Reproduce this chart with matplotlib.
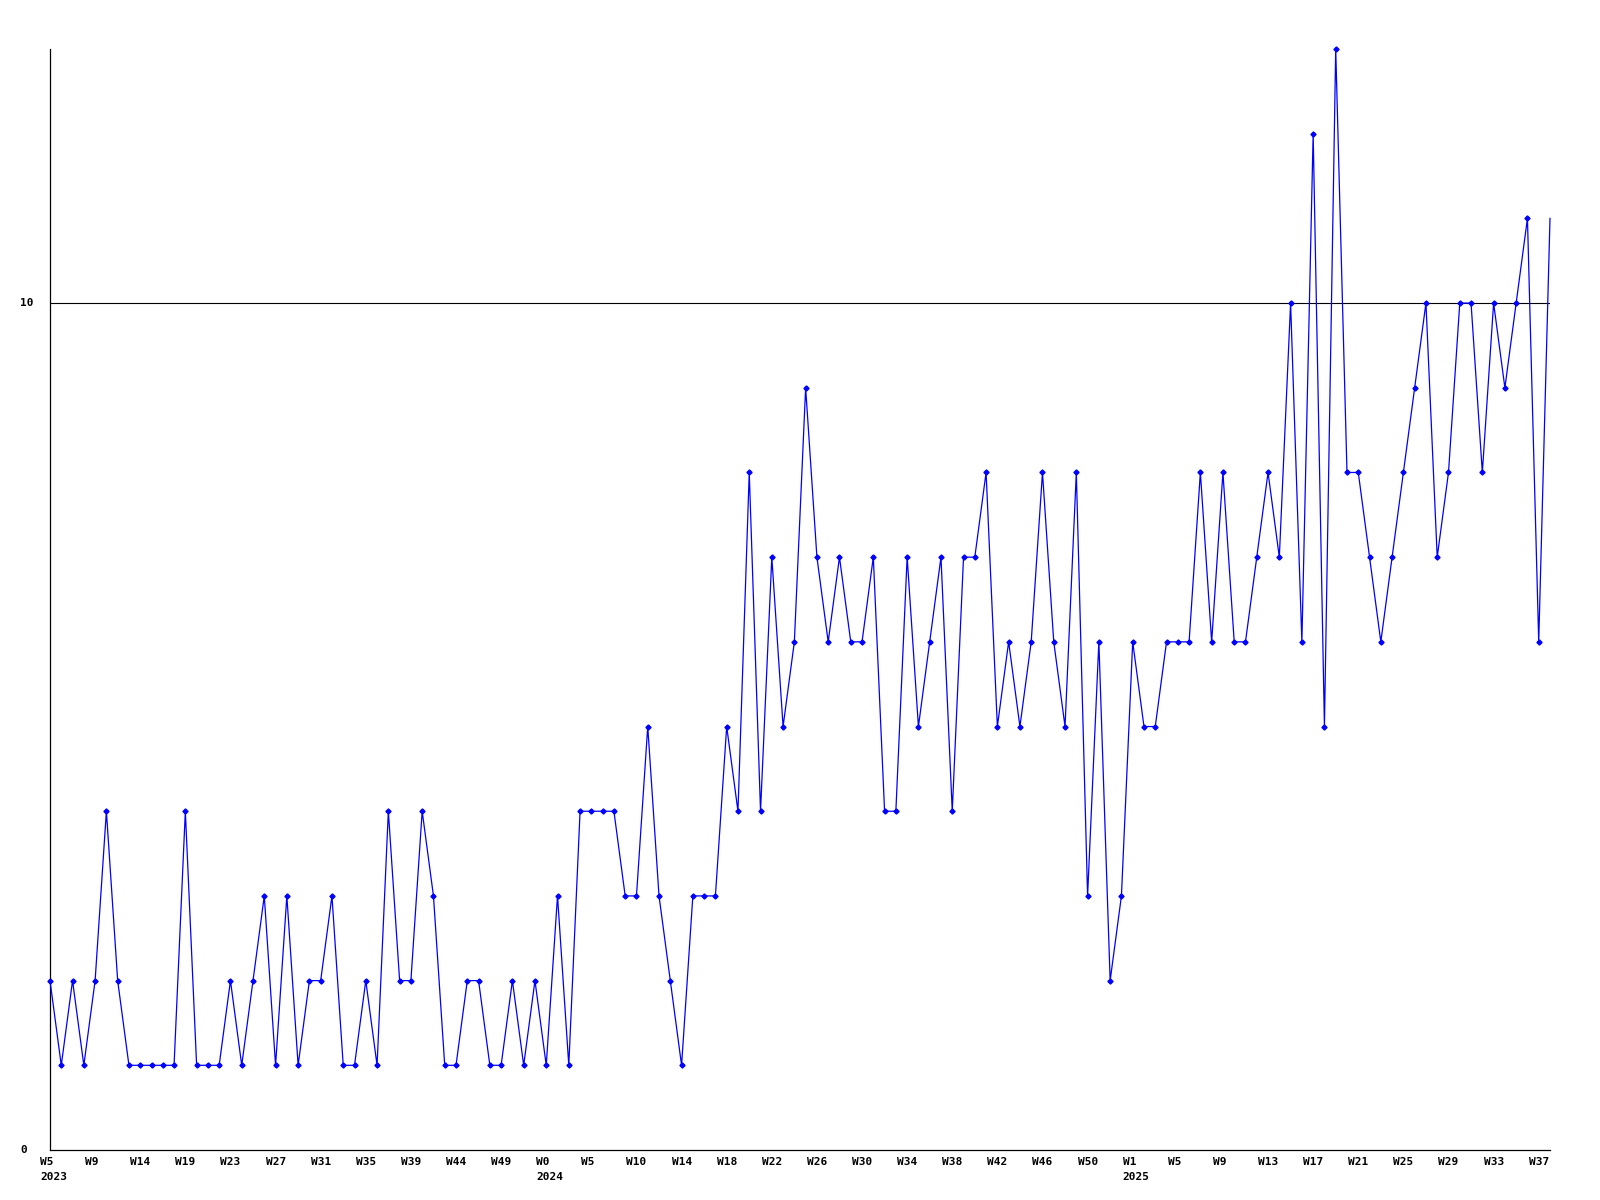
import matplotlib
matplotlib.use('Agg')
import matplotlib.pyplot as plt

# weekly counts, W5 2023 .. W37 2025 (last point = current week)
values = [2, 1, 2, 1, 2, 4, 2, 1, 1, 1,
          1, 1, 4, 1, 1, 1, 2, 1, 2, 3,
          1, 3, 1, 2, 2, 3, 1, 1, 2, 1,
          4, 2, 2, 4, 3, 1, 1, 2, 2, 1,
          1, 2, 1, 2, 1, 3, 1, 4, 4, 4,
          4, 3, 3, 5, 3, 2, 1, 3, 3, 3,
          5, 4, 8, 4, 7, 5, 6, 9, 7, 6,
          7, 6, 6, 7, 4, 4, 7, 5, 6, 7,
          4, 7, 7, 8, 5, 6, 5, 6, 8, 6,
          5, 8, 3, 6, 2, 3, 6, 5, 5, 6,
          6, 6, 8, 6, 8, 6, 6, 7, 8, 7,
          10, 6, 12, 5, 13, 8, 8, 7, 6, 7,
          8, 9, 10, 7, 8, 10, 10, 8, 10, 9,
          10, 11, 6, 11]

week_labels = ['W5', 'W9', 'W14', 'W19', 'W23', 'W27', 'W31', 'W35', 'W39',
               'W44', 'W49', 'W0', 'W5', 'W10', 'W14', 'W18', 'W22', 'W26',
               'W30', 'W34', 'W38', 'W42', 'W46', 'W50', 'W1', 'W5', 'W9',
               'W13', 'W17', 'W21', 'W25', 'W29', 'W33', 'W37']
year_labels = {0: '2023', 11: '2024', 24: '2025'}
label_step = 4
y_ticks = [0, 10]

font = dict(family='DejaVu Sans Mono', weight='bold', size=8)

fig = plt.figure(figsize=(16, 12), dpi=100)
ax = fig.add_axes([50 / 1600, 1 - 1150 / 1200, 1500 / 1600, (1150 - 49) / 1200])

x = list(range(len(values)))
ax.plot(x, values, color='#0000ff', linewidth=0.9, marker='D', markersize=2.6,
        markevery=list(range(len(values) - 1)), clip_on=False, zorder=3)

ax.set_xlim(0, len(values) - 1)
ax.set_ylim(0, max(values))

for s in ['top', 'right']:
    ax.spines[s].set_visible(False)
for s in ['left', 'bottom']:
    ax.spines[s].set_linewidth(0.9)
    ax.spines[s].set_color('black')

ax.set_xticks([])
ax.set_yticks([])

# horizontal reference line + y labels
for yv in y_ticks:
    if yv > 0:
        ax.axhline(yv, color='black', linewidth=0.8, zorder=2)
    ax.annotate(str(yv), xy=(0, yv), xycoords=('axes fraction', 'data'),
                xytext=(-30, 0), textcoords='offset pixels',
                ha='left', va='center', **font)

# week / year labels below the axis
for k, lab in enumerate(week_labels):
    xi = k * label_step
    ax.annotate(lab, xy=(xi, 0), xycoords=('data', 'axes fraction'),
                xytext=(-10, -12), textcoords='offset pixels',
                ha='left', va='center', **font)
    if k in year_labels:
        ax.annotate(year_labels[k], xy=(xi, 0), xycoords=('data', 'axes fraction'),
                    xytext=(-10, -27), textcoords='offset pixels',
                    ha='left', va='center', **font)

plt.savefig('out.png', dpi=100)
plt.close('all')
